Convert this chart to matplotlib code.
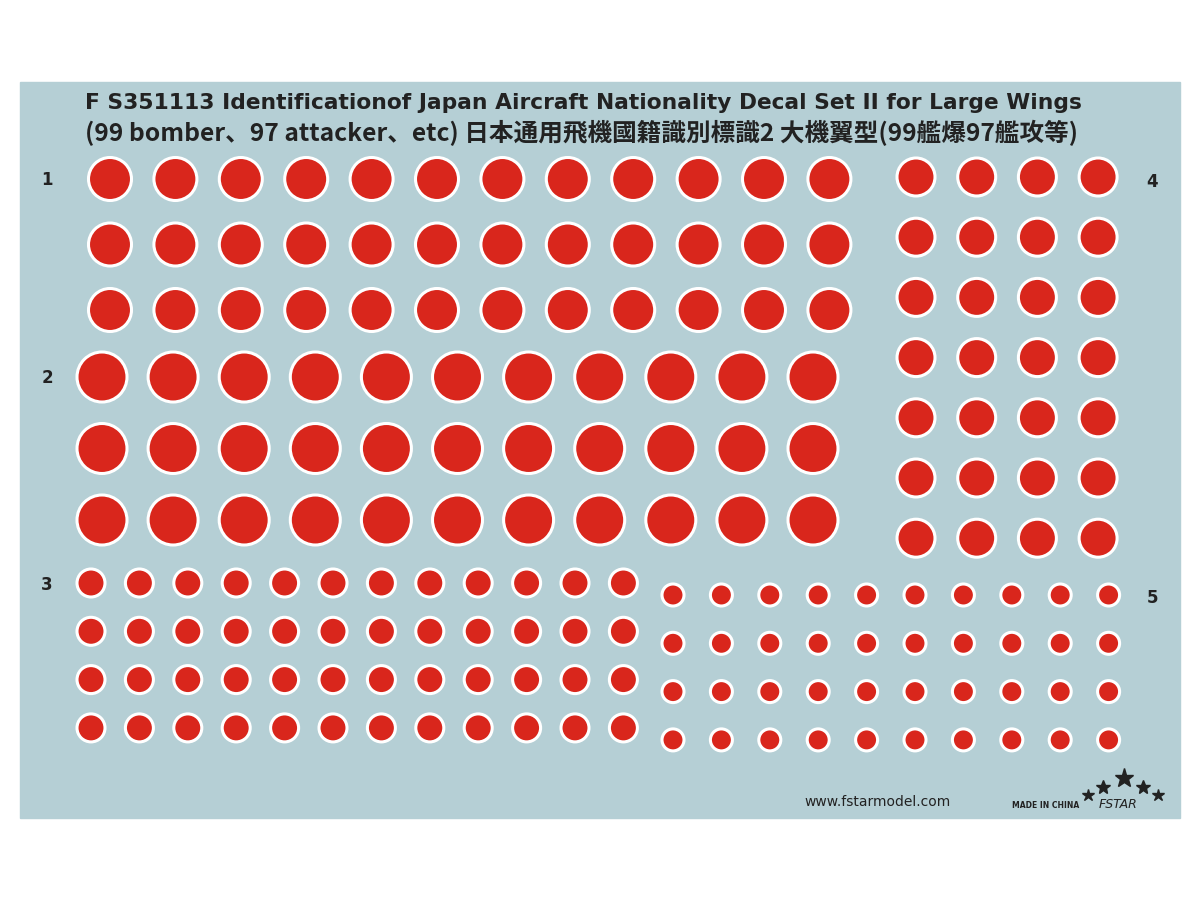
import matplotlib.pyplot as plt
from matplotlib.patches import Circle, Rectangle

# decal groups: label, columns, rows
group_names = ["1", "2", "3", "4", "5"]
group_cols = [12, 11, 12, 4, 10]
group_rows = [3, 3, 4, 7, 4]

title_lines = [
    "F S351113 Identificationof Japan Aircraft Nationality Decal Set II for Large Wings",
    "(99 bomber、97 attacker、etc) 日本通用飛機國籍識別標識2 大機翼型(99艦爆97艦攻等)",
]
website = "www.fstarmodel.com"

# layout (pixels): x0, dx, y0, dy, radius, label position
layout = {
    "1": (110, 65.4, 179, 65.5, 21.5, (47, 180)),
    "2": (102, 71.1, 377, 71.5, 25, (47, 378)),
    "3": (91, 48.4, 583, 48.3, 14, (47, 585)),
    "4": (916, 60.7, 177, 60.2, 19, (1152, 182)),
    "5": (673, 48.4, 595, 48.3, 11, (1152, 598)),
}

red = "#d9261c"
bg = "#b5cfd5"

fig = plt.figure(figsize=(12, 9), dpi=100)
ax = fig.add_axes([0, 0, 1, 1])
ax.set_xlim(0, 1200)
ax.set_ylim(900, 0)
ax.set_aspect("equal")
ax.axis("off")

ax.add_patch(Rectangle((20, 82), 1160, 736, color=bg, zorder=0))

for name, nc, nr in zip(group_names, group_cols, group_rows):
    x0, dx, y0, dy, r, (lx, ly) = layout[name]
    for i in range(nr):
        for j in range(nc):
            ax.add_patch(Circle((x0 + j * dx, y0 + i * dy), r, facecolor=red,
                                edgecolor="white", linewidth=2.2, zorder=2))
    ax.text(lx, ly, name, fontsize=12, fontweight="bold", color="#222222",
            ha="center", va="center")

ax.text(85, 103, title_lines[0], fontsize=15.7, fontweight="bold", color="#222222",
        family="DejaVu Sans", va="center", ha="left")
ax.text(85, 133, title_lines[1], fontsize=17.7, fontweight="bold", color="#222222",
        family="Noto Sans CJK JP", va="center", ha="left")

ax.text(878, 802, website, fontsize=10, color="#222222", ha="center", va="center")
ax.text(1046, 805, "MADE IN CHINA", fontsize=5.5, fontweight="bold", color="#222222",
        ha="center", va="center")
ax.text(1118, 805, "FSTAR", fontsize=9, style="italic", color="#222222",
        ha="center", va="center")
stars = [(1088, 795, 9), (1103, 787, 10), (1124, 778, 14), (1143, 787, 10), (1158, 795, 9)]
for sx, sy, ss in stars:
    ax.plot(sx, sy, marker="*", markersize=ss, color="#222222", zorder=3)

fig.savefig("out.png", dpi=100, facecolor="white")
